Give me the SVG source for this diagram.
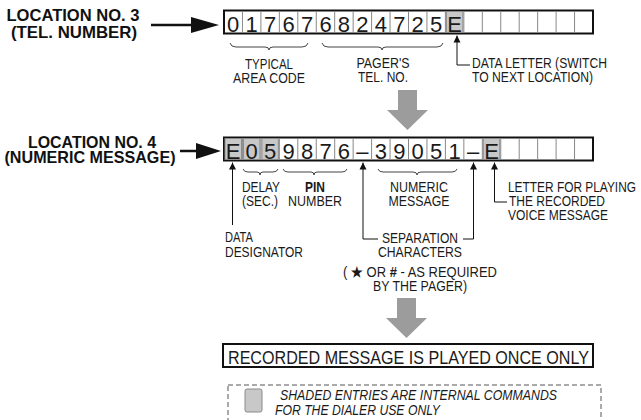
<svg xmlns="http://www.w3.org/2000/svg" width="641" height="420" viewBox="0 0 641 420">
<defs>
<style>
.lbl{font-family:"Liberation Sans",Arial,sans-serif;font-size:14px;fill:#1a1a1a}
.hdr{font-family:"Liberation Sans",Arial,sans-serif;font-size:16.5px;font-weight:bold;fill:#111}
.dig{font-family:"Liberation Sans",Arial,sans-serif;font-size:22px;fill:#1a1a1a;text-anchor:middle}
.mid{text-anchor:middle}
.box{fill:#fff;stroke:#111;stroke-width:2}
.div{stroke:#888;stroke-width:1}
.sh{fill:#c8c8c8;stroke:#8a8a8a;stroke-width:1}
.ptr{fill:none;stroke:#111;stroke-width:1}
.brace{fill:none;stroke:#444;stroke-width:1}
.big{fill:#9c9c9c}
.ital{font-family:"Liberation Sans",Arial,sans-serif;font-size:14.5px;font-style:italic;fill:#1a1a1a}
</style>
<marker id="ah" viewBox="0 0 10 10" refX="10" refY="5" markerWidth="7" markerHeight="9" markerUnits="userSpaceOnUse" orient="auto">
<path d="M0,0 L10,5 L0,10 Z" fill="#111"/>
</marker>
</defs>

<g id="header3">
<text class="hdr mid" x="73" y="21" textLength="133" lengthAdjust="spacingAndGlyphs">LOCATION NO. 3</text>
<text class="hdr mid" x="74" y="37.5" textLength="126" lengthAdjust="spacingAndGlyphs">(TEL. NUMBER)</text>
</g>
<g id="header4">
<text class="hdr mid" x="92" y="148" textLength="128" lengthAdjust="spacingAndGlyphs">LOCATION NO. 4</text>
<text class="hdr mid" x="90" y="162.5" textLength="171" lengthAdjust="spacingAndGlyphs">(NUMERIC MESSAGE)</text>
</g>

<g id="tape3">
<rect class="box" x="224" y="10.5" width="369" height="23"/>
<rect class="sh" x="446.4" y="11.5" width="16.45" height="21"/>
<g class="div">
<line x1="242.45" y1="11" x2="242.45" y2="33"/><line x1="260.9" y1="11" x2="260.9" y2="33"/>
<line x1="279.35" y1="11" x2="279.35" y2="33"/><line x1="297.8" y1="11" x2="297.8" y2="33"/>
<line x1="316.25" y1="11" x2="316.25" y2="33"/><line x1="334.7" y1="11" x2="334.7" y2="33"/>
<line x1="353.15" y1="11" x2="353.15" y2="33"/><line x1="371.6" y1="11" x2="371.6" y2="33"/>
<line x1="390.05" y1="11" x2="390.05" y2="33"/><line x1="408.5" y1="11" x2="408.5" y2="33"/>
<line x1="426.95" y1="11" x2="426.95" y2="33"/><line x1="445.4" y1="11" x2="445.4" y2="33"/>
<line x1="463.85" y1="11" x2="463.85" y2="33"/><line x1="482.3" y1="11" x2="482.3" y2="33"/>
<line x1="500.75" y1="11" x2="500.75" y2="33"/><line x1="519.2" y1="11" x2="519.2" y2="33"/>
<line x1="537.65" y1="11" x2="537.65" y2="33"/><line x1="556.1" y1="11" x2="556.1" y2="33"/>
<line x1="574.55" y1="11" x2="574.55" y2="33"/>
</g>
<g class="dig">
<text x="233.2" y="31.5">0</text><text x="251.7" y="31.5">1</text><text x="270.1" y="31.5">7</text>
<text x="288.6" y="31.5">6</text><text x="307" y="31.5">7</text><text x="325.5" y="31.5">6</text>
<text x="343.9" y="31.5">8</text><text x="362.4" y="31.5">2</text><text x="380.8" y="31.5">4</text>
<text x="399.3" y="31.5">7</text><text x="417.7" y="31.5">2</text><text x="436.2" y="31.5">5</text>
<text x="454.6" y="31.5">E</text>
</g>
</g>

<g id="tape4">
<rect class="box" x="224" y="137.5" width="369" height="23"/>
<rect class="sh" x="225" y="138.5" width="16.45" height="21"/>
<rect class="sh" x="243.45" y="138.5" width="16.45" height="21"/>
<rect class="sh" x="261.9" y="138.5" width="16.45" height="21"/>
<rect class="sh" x="483.3" y="138.5" width="16.45" height="21"/>
<g class="div">
<line x1="242.45" y1="138" x2="242.45" y2="160"/><line x1="260.9" y1="138" x2="260.9" y2="160"/>
<line x1="279.35" y1="138" x2="279.35" y2="160"/><line x1="297.8" y1="138" x2="297.8" y2="160"/>
<line x1="316.25" y1="138" x2="316.25" y2="160"/><line x1="334.7" y1="138" x2="334.7" y2="160"/>
<line x1="353.15" y1="138" x2="353.15" y2="160"/><line x1="371.6" y1="138" x2="371.6" y2="160"/>
<line x1="390.05" y1="138" x2="390.05" y2="160"/><line x1="408.5" y1="138" x2="408.5" y2="160"/>
<line x1="426.95" y1="138" x2="426.95" y2="160"/><line x1="445.4" y1="138" x2="445.4" y2="160"/>
<line x1="463.85" y1="138" x2="463.85" y2="160"/><line x1="482.3" y1="138" x2="482.3" y2="160"/>
<line x1="500.75" y1="138" x2="500.75" y2="160"/><line x1="519.2" y1="138" x2="519.2" y2="160"/>
<line x1="537.65" y1="138" x2="537.65" y2="160"/><line x1="556.1" y1="138" x2="556.1" y2="160"/>
<line x1="574.55" y1="138" x2="574.55" y2="160"/>
</g>
<g class="dig">
<text x="233.2" y="158.5">E</text><text x="251.7" y="158.5">0</text><text x="270.1" y="158.5">5</text>
<text x="288.6" y="158.5">9</text><text x="307" y="158.5">8</text><text x="325.5" y="158.5">7</text>
<text x="343.9" y="158.5">6</text><text x="362.4" y="158.5">–</text><text x="380.8" y="158.5">3</text>
<text x="399.3" y="158.5">9</text><text x="417.7" y="158.5">0</text><text x="436.2" y="158.5">5</text>
<text x="454.6" y="158.5">1</text><text x="473.1" y="158.5">–</text><text x="491.5" y="158.5">E</text>
</g>
</g>

<g id="labels3">
<text class="lbl mid" x="269" y="69" textLength="48" lengthAdjust="spacingAndGlyphs">TYPICAL</text>
<text class="lbl mid" x="269" y="82.5" textLength="72" lengthAdjust="spacingAndGlyphs">AREA CODE</text>
<text class="lbl mid" x="383" y="68" textLength="53" lengthAdjust="spacingAndGlyphs">PAGER'S</text>
<text class="lbl mid" x="383" y="81.5" textLength="50" lengthAdjust="spacingAndGlyphs">TEL. NO.</text>
<text class="lbl" x="472" y="67.5" textLength="135" lengthAdjust="spacingAndGlyphs">DATA LETTER (SWITCH</text>
<text class="lbl" x="472" y="81.5" textLength="121" lengthAdjust="spacingAndGlyphs">TO NEXT LOCATION)</text>
</g>

<g id="labels4">
<text class="lbl mid" x="261" y="192" textLength="38" lengthAdjust="spacingAndGlyphs">DELAY</text>
<text class="lbl mid" x="260" y="206" textLength="36" lengthAdjust="spacingAndGlyphs">(SEC.)</text>
<text class="lbl mid" x="315" y="192" font-weight="bold" textLength="20" lengthAdjust="spacingAndGlyphs">PIN</text>
<text class="lbl mid" x="315" y="206" textLength="54" lengthAdjust="spacingAndGlyphs">NUMBER</text>
<text class="lbl mid" x="419" y="192" textLength="58" lengthAdjust="spacingAndGlyphs">NUMERIC</text>
<text class="lbl mid" x="419" y="206" textLength="61" lengthAdjust="spacingAndGlyphs">MESSAGE</text>
<text class="lbl" x="508" y="192" textLength="128" lengthAdjust="spacingAndGlyphs">LETTER FOR PLAYING</text>
<text class="lbl" x="509" y="206" textLength="96" lengthAdjust="spacingAndGlyphs">THE RECORDED</text>
<text class="lbl" x="508" y="220" textLength="100" lengthAdjust="spacingAndGlyphs">VOICE MESSAGE</text>
<text class="lbl" x="225" y="242" textLength="28" lengthAdjust="spacingAndGlyphs">DATA</text>
<text class="lbl" x="225" y="256.5" textLength="78" lengthAdjust="spacingAndGlyphs">DESIGNATOR</text>
<text class="lbl mid" x="420" y="243" textLength="76" lengthAdjust="spacingAndGlyphs">SEPARATION</text>
<text class="lbl mid" x="420" y="257" textLength="84" lengthAdjust="spacingAndGlyphs">CHARACTERS</text>
<text class="lbl" x="343" y="277" textLength="154" lengthAdjust="spacingAndGlyphs">( <tspan font-weight="bold">★</tspan> OR <tspan font-weight="bold">#</tspan> -  AS REQUIRED</text>
<text class="lbl mid" x="420" y="290.5" textLength="94" lengthAdjust="spacingAndGlyphs">BY THE PAGER)</text>
</g>

<g id="result">
<rect x="223" y="344" width="370" height="23" fill="#fff" stroke="#111" stroke-width="2"/>
<text x="228" y="363.5" font-family="Liberation Sans, Arial, sans-serif" font-size="18" fill="#1a1a1a" textLength="361" lengthAdjust="spacingAndGlyphs">RECORDED MESSAGE IS PLAYED ONCE ONLY</text>
</g>

<g id="legend">
<rect x="228" y="385" width="373" height="50" fill="none" stroke="#555" stroke-width="1" stroke-dasharray="5 3"/>
<rect x="245" y="389" width="17" height="23" rx="2" class="sh" stroke="#333"/>
<text class="ital" x="280" y="399.5" textLength="277" lengthAdjust="spacingAndGlyphs">SHADED ENTRIES ARE INTERNAL COMMANDS</text>
<text class="ital" x="275" y="414.5" textLength="165" lengthAdjust="spacingAndGlyphs">FOR THE DIALER USE ONLY</text>
</g>

<g id="connectors">
<line x1="151" y1="25" x2="195" y2="25" stroke="#111" stroke-width="2.5"/>
<path d="M191,17 L219,25 L191,33 Z" fill="#111"/>
<line x1="180" y1="151" x2="200" y2="151" stroke="#111" stroke-width="2.5"/>
<path d="M196,143 L221,151 L196,159 Z" fill="#111"/>

<path class="big" d="M398,90 H417 V110 H428 L407.5,130 L387,110 H398 Z"/>
<path class="big" d="M397,298 H416 V318 H427 L406.5,338 L386,318 H397 Z"/>

<path class="brace" d="M230,43 Q231,47 236,47 H265 Q269,47 269,50 Q269,47 273,47 H302 Q307,47 308,43"/>
<path class="brace" d="M322,43 Q323,47 328,47 H378 Q382,47 382,50 Q382,47 386,47 H437 Q442,47 443,43"/>
<path class="brace" d="M243,169 Q244,172 248,172 H257 Q260,172 260,175 Q260,172 263,172 H273 Q277,172 278,169"/>
<path class="brace" d="M283,169 Q284,172 288,172 H311 Q314,172 314,175 Q314,172 317,172 H342 Q346,172 347,169"/>
<path class="brace" d="M378,169 Q379,172 383,172 H413 Q417,172 417,175 Q417,172 421,172 H452 Q456,172 457,169"/>

<path class="ptr" d="M470,65 H457 V35.5" marker-end="url(#ah)"/>
<path class="ptr" d="M232.5,225 V162.5" marker-end="url(#ah)"/>
<path class="ptr" d="M378,239 H363 V162.5" marker-end="url(#ah)"/>
<path class="ptr" d="M463,239 H473.5 V162.5" marker-end="url(#ah)"/>
<path class="ptr" d="M507,202 H494.5 V162.5" marker-end="url(#ah)"/>
</g>
</svg>
